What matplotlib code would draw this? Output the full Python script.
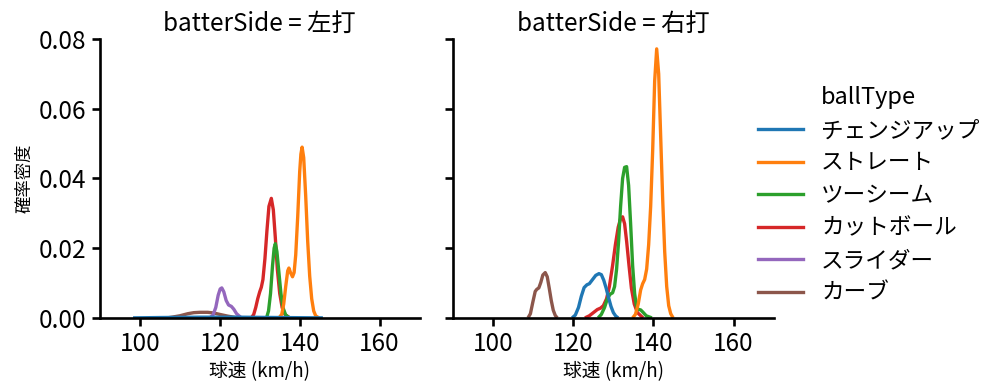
import matplotlib
matplotlib.use("Agg")
import matplotlib.pyplot as plt

plt.rcParams['font.family'] = ['Noto Sans CJK JP', 'DejaVu Sans']

ball_types = ['チェンジアップ', 'ストレート', 'ツーシーム', 'カットボール', 'スライダー', 'カーブ']
colors = ['#1f77b4', '#ff7f0e', '#2ca02c', '#d62728', '#9467bd', '#8c564b']
sides = ['左打', '右打']

# density curves: (speed km/h, density)
left_x = {
    'チェンジアップ': [98.3, 105, 115, 125, 135, 145.8],
    'ストレート': [134.8, 135.5, 136.0, 136.5, 137.0, 137.3, 137.7, 138.2, 138.6, 139.0, 139.5,
                140.0, 140.3, 140.6, 141.0, 141.5, 142.0, 142.5, 143.0, 143.5, 144.0, 144.8],
    'ツーシーム': [131.7, 132.2, 132.7, 133.2, 133.6, 133.9, 134.3, 134.8, 135.3, 135.8, 136.5, 137.5],
    'カットボール': [127.9, 128.5, 129.0, 129.5, 130.0, 130.4, 130.8, 131.3, 131.8, 132.3, 132.9,
                133.4, 133.9, 134.4, 135.0, 135.6, 136.3, 137.5],
    'スライダー': [117.5, 118.3, 119.0, 119.6, 120.1, 120.5, 121.0, 121.6, 122.2, 122.9, 123.5, 124.2, 125.4],
    'カーブ': [106.8, 108, 110, 112, 113.5, 115, 117, 118.5, 120, 122, 124, 125],
}
left_y = {
    'チェンジアップ': [0, 0.0001, 0.0002, 0.0002, 0.0001, 0],
    'ストレート': [0, 0.001, 0.004, 0.009, 0.0135, 0.0143, 0.013, 0.0118, 0.013, 0.018, 0.029,
                0.042, 0.047, 0.049, 0.046, 0.035, 0.022, 0.012, 0.0055, 0.002, 0.0006, 0],
    'ツーシーム': [0, 0.002, 0.007, 0.015, 0.020, 0.0213, 0.019, 0.013, 0.007, 0.003, 0.0008, 0],
    'カットボール': [0, 0.001, 0.003, 0.0055, 0.0075, 0.0088, 0.011, 0.017, 0.025, 0.032, 0.0343,
                0.031, 0.023, 0.014, 0.007, 0.003, 0.001, 0],
    'スライダー': [0, 0.0008, 0.003, 0.0065, 0.0083, 0.0086, 0.0075, 0.005, 0.0037, 0.0033, 0.0025, 0.0012, 0],
    'カーブ': [0, 0.0002, 0.0006, 0.0012, 0.0015, 0.0016, 0.0016, 0.0014, 0.001, 0.0005, 0.0001, 0],
}
right_x = {
    'チェンジアップ': [119.7, 120.5, 121.3, 122.0, 122.7, 123.4, 124.0, 124.8, 125.6, 126.4, 127.0,
                  127.6, 128.2, 128.8, 129.4, 130.0, 130.6, 131.2],
    'ストレート': [134.8, 135.5, 136.2, 136.8, 137.3, 137.8, 138.3, 138.8, 139.3, 139.8, 140.3,
                140.8, 141.3, 141.8, 142.3, 142.8, 143.3, 143.8, 144.3, 144.9],
    'ツーシーム': [126.2, 127.0, 127.8, 128.5, 129.2, 129.8, 130.3, 130.8, 131.3, 131.8, 132.3, 132.8,
                133.3, 133.8, 134.3, 134.8, 135.3, 135.8, 136.3, 136.8, 137.4, 138.2, 139.6],
    'カットボール': [122.9, 124.0, 125.0, 126.0, 126.8, 127.5, 128.3, 129.0, 129.8, 130.5, 131.2,
                131.8, 132.3, 132.8, 133.3, 133.9, 134.5, 135.2, 136.0, 137.4],
    'スライダー': [],
    'カーブ': [108.7, 109.3, 109.9, 110.5, 110.9, 111.4, 111.9, 112.4, 113.0, 113.5, 114.0, 114.5,
            115.0, 115.5, 116.0],
}
right_y = {
    'チェンジアップ': [0, 0.0008, 0.003, 0.0062, 0.0087, 0.0095, 0.0098, 0.011, 0.0122, 0.0127, 0.0124,
                  0.0108, 0.0085, 0.0058, 0.0033, 0.0015, 0.0005, 0],
    'ストレート': [0, 0.001, 0.004, 0.008, 0.0098, 0.011, 0.014, 0.021, 0.032, 0.048, 0.068,
                0.0772, 0.070, 0.052, 0.034, 0.019, 0.009, 0.0035, 0.0012, 0],
    'ツーシーム': [0, 0.001, 0.003, 0.0055, 0.0068, 0.0072, 0.009, 0.014, 0.022, 0.032, 0.040, 0.0432,
                0.0434, 0.038, 0.027, 0.015, 0.007, 0.003, 0.0024, 0.0023, 0.0016, 0.0006, 0],
    'カットボール': [0, 0.0006, 0.0015, 0.0024, 0.0028, 0.0035, 0.0055, 0.009, 0.015, 0.021, 0.026,
                0.0285, 0.029, 0.027, 0.022, 0.015, 0.0085, 0.004, 0.0015, 0],
    'スライダー': [],
    'カーブ': [0, 0.0012, 0.0045, 0.0076, 0.0082, 0.0086, 0.0102, 0.0123, 0.013, 0.0118, 0.0085, 0.005,
            0.0022, 0.0007, 0],
}

xticks = [100, 120, 140, 160]
yticks = [0.00, 0.02, 0.04, 0.06, 0.08]

fig = plt.figure(figsize=(9.99, 3.91), dpi=100)
ax1 = fig.add_axes([0.100, 0.187, 0.320, 0.713])
ax2 = fig.add_axes([0.4535, 0.187, 0.321, 0.713], sharey=ax1)

for ax, side, xs, ys in [(ax1, sides[0], left_x, left_y), (ax2, sides[1], right_x, right_y)]:
    # draw in reverse so the first ball type sits on top
    for bt, c in reversed(list(zip(ball_types, colors))):
        ax.plot(xs[bt], ys[bt], color=c, lw=2.4, solid_capstyle='butt')
    ax.set_xlim(90, 170)
    ax.set_ylim(0, 0.08)
    ax.set_xticks(xticks)
    ax.set_yticks(yticks)
    ax.spines['top'].set_visible(False)
    ax.spines['right'].set_visible(False)
    for s in ['left', 'bottom']:
        ax.spines[s].set_linewidth(1.9)
    ax.tick_params(width=1.9, length=6, labelsize=17.5)
    ax.set_title('batterSide = ' + side, fontsize=17.5)
    ax.set_xlabel('球速 (km/h)', fontsize=13.5, labelpad=3)

ax1.set_yticklabels(['0.00', '0.02', '0.04', '0.06', '0.08'])
ax1.set_ylabel('確率密度', fontsize=12.5)
plt.setp(ax2.get_yticklabels(), visible=False)

handles = []
for bt, c in zip(ball_types, colors):
    handles.append(plt.Line2D([], [], color=c, lw=2.4))
leg = fig.legend(handles, ball_types, title='ballType', loc='center left',
                 bbox_to_anchor=(0.738, 0.5), frameon=False, fontsize=16.3,
                 title_fontsize=17, handlelength=2.0, labelspacing=0.42)

fig.savefig('out.png', dpi=100)
